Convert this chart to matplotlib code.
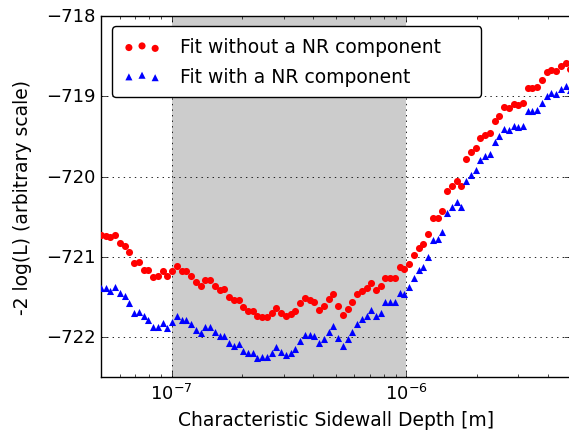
import numpy as np
import matplotlib
matplotlib.use('Agg')
import matplotlib.pyplot as plt

plt.style.use('classic')
plt.rcParams['mathtext.fontset'] = 'dejavusans'
plt.rcParams['font.family'] = ['DejaVu Sans']

# sidewall depth grid (log spaced)
depth = np.logspace(np.log10(5e-8), np.log10(5e-6), 100)

# -2 log(L), fit without a NR component
ll_no_nr = [
    -720.735, -720.738, -720.754, -720.729, -720.829, -720.862, -720.937, -721.078, -721.062, -721.161,
    -721.161, -721.252, -721.236, -721.178, -721.240, -721.178, -721.111, -721.178, -721.178, -721.240,
    -721.311, -721.361, -721.290, -721.290, -721.361, -721.411, -721.402, -721.505, -721.535, -721.535,
    -721.630, -721.672, -721.682, -721.742, -721.754, -721.754, -721.701, -721.639, -721.701, -721.735,
    -721.713, -721.672, -721.580, -721.518, -721.535, -721.560, -721.660, -721.617, -721.526, -721.464,
    -721.617, -721.726, -721.651, -721.560, -721.468, -721.423, -721.386, -721.327, -721.411, -721.368,
    -721.261, -721.261, -721.261, -721.134, -721.157, -721.088, -720.978, -720.891, -720.841, -720.717,
    -720.521, -720.517, -720.426, -720.184, -720.115, -720.052, -720.115, -719.782, -719.698, -719.649,
    -719.524, -719.483, -719.458, -719.312, -719.242, -719.138, -719.150, -719.097, -719.109, -719.088,
    -718.897, -718.897, -718.888, -718.794, -718.702, -718.673, -718.689, -718.619, -718.586, -718.660,
]

# -2 log(L), fit with a NR component
ll_nr = [
    -721.389, -721.393, -721.423, -721.373, -721.452, -721.485, -721.576, -721.701, -721.685, -721.735,
    -721.788, -721.879, -721.879, -721.829, -721.892, -721.817, -721.735, -721.788, -721.788, -721.838,
    -721.913, -721.954, -721.879, -721.879, -721.941, -721.991, -721.991, -722.079, -722.108, -722.087,
    -722.171, -722.199, -722.199, -722.262, -722.253, -722.253, -722.199, -722.128, -722.191, -722.221,
    -722.199, -722.150, -722.046, -721.975, -721.975, -721.984, -722.075, -722.025, -721.934, -721.867,
    -722.012, -722.116, -722.025, -721.934, -721.838, -721.776, -721.735, -721.664, -721.742, -721.701,
    -721.568, -721.568, -721.568, -721.448, -721.470, -721.381, -721.269, -721.165, -721.124, -720.999,
    -720.791, -720.779, -720.695, -720.455, -720.384, -720.314, -720.384, -720.052, -719.978, -719.919,
    -719.794, -719.741, -719.720, -719.574, -719.499, -719.408, -719.421, -719.374, -719.387, -719.374,
    -719.188, -719.188, -719.168, -719.084, -719.001, -718.960, -718.972, -718.910, -718.869, -718.920,
]

fig = plt.figure(figsize=(5.69, 4.39), dpi=100)
ax = fig.add_axes([0.1775, 0.139, 0.825, 0.822])

ax.axvspan(1e-7, 1e-6, facecolor='0.8', edgecolor='none', zorder=0)
ax.scatter(depth, ll_no_nr, s=26, c='r', marker='o', linewidths=0,
           label='Fit without a NR component', zorder=3)
ax.scatter(depth, ll_nr, s=26, c='b', marker='^', linewidths=0,
           label='Fit with a NR component', zorder=3)

ax.set_xscale('log')
ax.set_xlim(5e-8, 5e-6)
ax.set_ylim(-722.5, -718)
ax.set_yticks([-722, -721, -720, -719, -718])
ax.grid(True, color='k', linestyle=':', linewidth=0.6)

ax.set_xlabel('Characteristic Sidewall Depth [m]', fontsize=13.5)
ax.set_ylabel('-2 log(L) (arbitrary scale)', fontsize=13.5, labelpad=10)
ax.tick_params(labelsize=13)

ax.legend(loc='upper left', bbox_to_anchor=(0.0235, 0.0, 0.787, 0.972),
          mode='expand', borderaxespad=0, scatterpoints=3, fancybox=True,
          fontsize=13.5, handlelength=2.0, handletextpad=1.05,
          borderpad=0.6, labelspacing=0.55)

fig.savefig('out.png', dpi=100)
